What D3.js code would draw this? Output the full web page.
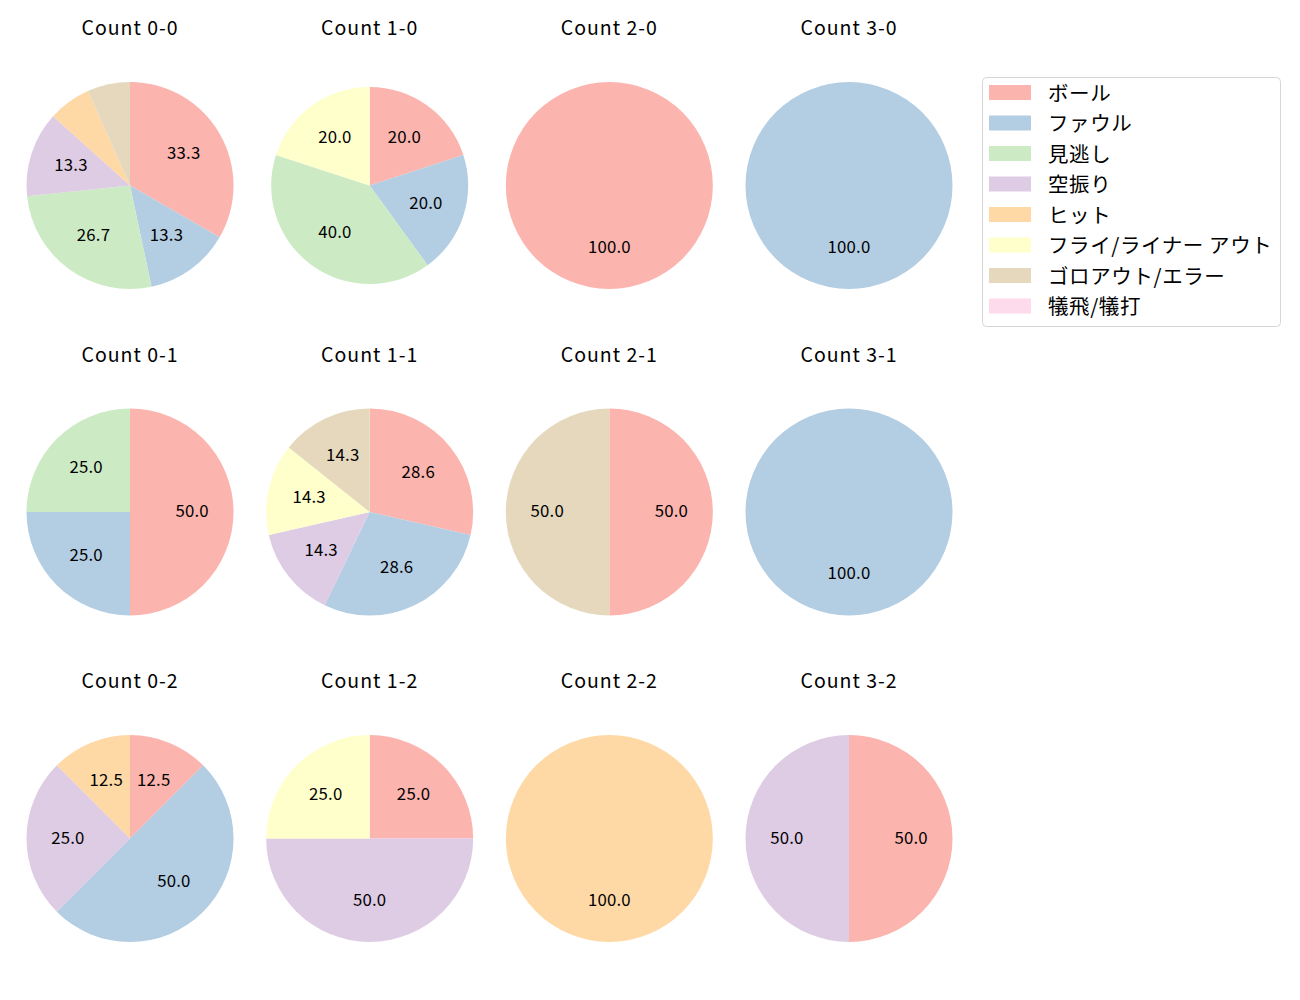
<!DOCTYPE html>
<html>
<head>
<meta charset="utf-8">
<script src="https://cdn.jsdelivr.net/npm/d3@7"></script>
<style>
  html, body { margin: 0; padding: 0; background: #fff; }
  svg { display: block; font-family: "Noto Sans CJK JP", "Noto Sans", sans-serif; }
</style>
</head>
<body>
<svg id="chart" width="1300" height="1000"></svg>
<script>
// ---- data ----
const categories = ["ボール", "ファウル", "見逃し", "空振り", "ヒット", "フライ/ライナー アウト", "ゴロアウト/エラー", "犠飛/犠打"];
const colors = ["#fbb4ae", "#b3cde3", "#ccebc5", "#decbe4", "#fed9a6", "#ffffcc", "#e5d8bd", "#fddaec"];
const panelTitles = ["Count 0-0", "Count 1-0", "Count 2-0", "Count 3-0",
                     "Count 0-1", "Count 1-1", "Count 2-1", "Count 3-1",
                     "Count 0-2", "Count 1-2", "Count 2-2", "Count 3-2"];
// counts per category, in legend order
const count00 = [5, 2, 4, 2, 1, 0, 1, 0];
const count10 = [1, 1, 2, 0, 0, 1, 0, 0];
const count20 = [1, 0, 0, 0, 0, 0, 0, 0];
const count30 = [0, 1, 0, 0, 0, 0, 0, 0];
const count01 = [2, 1, 1, 0, 0, 0, 0, 0];
const count11 = [2, 2, 0, 1, 0, 1, 1, 0];
const count21 = [1, 0, 0, 0, 0, 0, 1, 0];
const count31 = [0, 1, 0, 0, 0, 0, 0, 0];
const count02 = [1, 4, 0, 2, 1, 0, 0, 0];
const count12 = [1, 0, 0, 2, 0, 1, 0, 0];
const count22 = [0, 0, 0, 0, 1, 0, 0, 0];
const count32 = [1, 0, 0, 1, 0, 0, 0, 0];
const panelValues = [count00, count10, count20, count30,
                     count01, count11, count21, count31,
                     count02, count12, count22, count32];

// ---- layout ----
const svg = d3.select("#chart");
const colX = d3.scalePoint().domain([0, 1, 2, 3]).range([130, 849]);
const rowY = d3.scalePoint().domain([0, 1, 2]).range([185.5, 838.5]);
const baseRadius = 103.5;
const radiusOverride = { 1: 98.5 };
const color = d3.scaleOrdinal().domain(categories).range(colors);

const pie = d3.pie().sort(null).value(d => d.v)
  .startAngle(0).endAngle(2 * Math.PI);

panelValues.forEach((vals, i) => {
  const col = i % 4, row = Math.floor(i / 4);
  const cx = colX(col), cy = rowY(row);
  const r = radiusOverride[i] || baseRadius;
  const total = d3.sum(vals);
  const data = vals.map((v, k) => ({ v, cat: categories[k] }));
  const arcs = pie(data).filter(a => a.data.v > 0);
  const arc = d3.arc().innerRadius(0).outerRadius(r);

  const g = svg.append("g").attr("transform", `translate(${cx},${cy})`);
  g.selectAll("path").data(arcs).enter().append("path")
    .attr("d", arc)
    .attr("fill", d => color(d.data.cat));

  g.selectAll("text.lbl").data(arcs.filter(a => a.data.v / total * 100 >= 10)).enter()
    .append("text").attr("class", "lbl")
    .attr("transform", d => {
      const a = (d.startAngle + d.endAngle) / 2;
      return `translate(${Math.sin(a) * r * 0.6},${-Math.cos(a) * r * 0.6 - 2})`;
    })
    .attr("text-anchor", "middle")
    .attr("dominant-baseline", "central")
    .attr("font-size", 16.8)
    .attr("letter-spacing", 0.2)
    .attr("fill", "#000")
    .text(d => (d.data.v / total * 100).toFixed(1));

  svg.append("text")
    .attr("x", cx).attr("y", cy - 150.5)
    .attr("text-anchor", "middle")
    .attr("font-size", 19.5)
    .attr("letter-spacing", 1)
    .attr("fill", "#000")
    .text(panelTitles[i]);
});

// ---- legend ----
const lg = svg.append("g");
lg.append("rect")
  .attr("x", 982.5).attr("y", 77.5).attr("width", 298).attr("height", 249)
  .attr("rx", 4).attr("fill", "#fff").attr("stroke", "#d6d6d6").attr("stroke-width", 1);
const ly = d3.scaleLinear().domain([0, 7]).range([92.5, 306]);
categories.forEach((c, k) => {
  lg.append("rect")
    .attr("x", 989).attr("y", ly(k) - 7.5).attr("width", 42).attr("height", 15)
    .attr("fill", colors[k]);
  lg.append("text")
    .attr("x", 1048).attr("y", ly(k) - 1)
    .attr("dominant-baseline", "central")
    .attr("font-size", 20.5)
    .attr("letter-spacing", 0.6)
    .attr("fill", "#000")
    .text(c);
});
</script>
</body>
</html>
